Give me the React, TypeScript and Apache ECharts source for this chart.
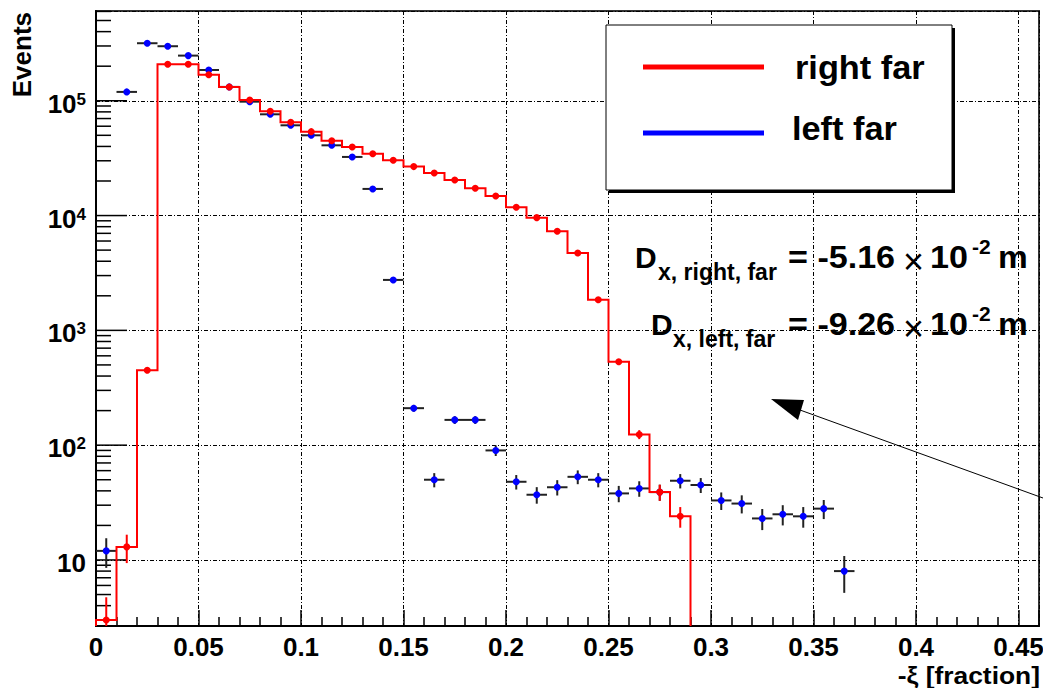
import React, { useEffect, useRef } from "react";
import * as echarts from "echarts";

// ---------------- data ----------------
const binWidth = 0.01;
const rightFarCenters = [
  0.005, 0.015, 0.025, 0.035, 0.045, 0.055, 0.065, 0.075, 0.085, 0.095,
  0.105, 0.115, 0.125, 0.135, 0.145, 0.155, 0.165, 0.175, 0.185, 0.195,
  0.205, 0.215, 0.225, 0.235, 0.245, 0.255, 0.265, 0.275, 0.285,
];
const rightFarCounts = [
  3, 13, 449, 208000, 208000, 168600, 131900, 101600, 80900, 65000,
  53800, 44900, 39600, 34600, 30300, 26700, 23500, 20400, 17300, 14800,
  11800, 9590, 7300, 4720, 1850, 533, 124, 39, 24,
];
const leftFarCenters = [
  0.005, 0.015, 0.025, 0.035, 0.045, 0.055, 0.065, 0.075, 0.085, 0.095,
  0.105, 0.115, 0.125, 0.135, 0.145, 0.155, 0.165, 0.175, 0.185, 0.195,
  0.205, 0.215, 0.225, 0.235, 0.245, 0.255, 0.265, 0.275, 0.285, 0.295,
  0.305, 0.315, 0.325, 0.335, 0.345, 0.355, 0.365,
];
const leftFarCounts = [
  12, 119400, 317000, 298500, 247300, 185400, 132000, 98200, 76200, 61100,
  50000, 40900, 32400, 17060, 2750, 210, 50, 166, 166, 90,
  48, 37, 43, 53, 50, 38, 42, 39, 49, 45,
  33, 31, 23, 25, 24, 28, 8,
];
const yDecades = [10, 100, 1000, 10000, 100000, 1000000];
const seriesNames = ["right far", "left far"];

const X_MIN = 0;
const X_MAX = 0.46;
const Y_MIN = 2.66;
const Y_MAX = 605000;

const RED = "#ff0000";
const BLUE = "#0000ff";
const FONT = '"Liberation Sans", Arial, Helvetica, sans-serif';

function yPix(api: any, cs: any, x: number, v: number) {
  const bottom = cs.y + cs.height;
  if (!(v > Y_MIN)) return bottom;
  if (v >= Y_MAX) return cs.y;
  return api.coord([x, v])[1];
}

function txt(text: string, x: number, y: number, fontSize: number, opts: any = {}) {
  return {
    type: "text",
    x,
    y,
    z: 100,
    scaleX: opts.scaleX ?? 1,
    rotation: opts.rotation ?? 0,
    style: {
      text,
      fontFamily: FONT,
      fontWeight: opts.weight ?? "bold",
      fontSize,
      fill: "#000",
      align: opts.align ?? "left",
      verticalAlign: "middle",
    },
  };
}

export default function App() {
  const ref = useRef<HTMLDivElement>(null);
  useEffect(() => {
    if (!ref.current) return;
    const chart = echarts.init(ref.current, null, { renderer: "svg" });

    const leftData = leftFarCenters.map((c, i) => [c, leftFarCounts[i]]);
    const rightData = rightFarCenters.map((c, i) => [c, rightFarCounts[i]]);

    const option: any = {
      animation: false,
      backgroundColor: "#ffffff",
      grid: {
        left: 96,
        top: 11,
        right: 4,
        bottom: 62,
        show: true,
        borderColor: "#333",
        borderWidth: 2,
        backgroundColor: "transparent",
        outerBoundsMode: "none",
        containLabel: false,
      },
      xAxis: {
        type: "value",
        min: X_MIN,
        max: X_MAX,
        interval: 0.05,
        axisLine: { show: true, onZero: false, lineStyle: { color: "#000", width: 2 } },
        axisTick: { show: true, inside: true, length: 16, lineStyle: { color: "#000", width: 1.5 } },
        minorTick: { show: true, splitNumber: 5, length: 9, lineStyle: { color: "#000", width: 1.5 } },
        splitLine: { show: true, lineStyle: { color: "#000", width: 1, type: [4, 2, 1, 2] } },
        axisLabel: {
          show: true,
          showMaxLabel: false,
          margin: 8,
          color: "#000",
          fontFamily: FONT,
          fontWeight: "bold",
          fontSize: 26,
          formatter: (v: number) => String(Math.round(v * 100) / 100),
        },
      },
      yAxis: {
        type: "log",
        logBase: 10,
        min: Y_MIN,
        max: Y_MAX,
        axisLine: { show: true, onZero: false, lineStyle: { color: "#000", width: 2 } },
        axisTick: { show: false },
        splitLine: { show: true, lineStyle: { color: "#000", width: 1, type: [4, 2, 1, 2] } },
        axisLabel: {
          show: true,
          margin: 10,
          color: "#000",
          fontFamily: FONT,
          fontWeight: "bold",
          fontSize: 26,
          padding: [6, 0, 0, 0],
          formatter: (v: number) => {
            const l = Math.log10(v);
            const e = Math.round(l);
            if (Math.abs(l - e) > 1e-6) return "";
            if (e === 1) return "10";
            return "10{sup|" + e + "}";
          },
          rich: {
            sup: {
              fontFamily: FONT,
              fontWeight: "bold",
              fontSize: 17,
              color: "#000",
              lineHeight: 16,
              verticalAlign: "top",
            },
          },
        },
      },
      series: [
        // y-axis decade and sub-decade tick marks (log-spaced)
        {
          type: "custom",
          name: "yticks",
          silent: true,
          data: [[X_MIN, yDecades[0]]],
          renderItem: (params: any, api: any) => {
            const cs = params.coordSys;
            const children: any[] = [];
            yDecades.forEach((d) => {
              for (let k = 1; k <= 9; k++) {
                const v = (d / 10) * k;
                if (v <= Y_MIN || v >= Y_MAX) continue;
                const y = api.coord([X_MIN, v])[1];
                const len = k === 1 ? 31 : 15;
                children.push({
                  type: "line",
                  shape: { x1: cs.x, y1: y, x2: cs.x + len, y2: y },
                  style: { stroke: "#000", lineWidth: 1.5 },
                });
              }
            });
            return { type: "group", children };
          },
        },
        // left far: blue markers with black error bars
        {
          type: "custom",
          name: seriesNames[1],
          data: leftData,
          renderItem: (params: any, api: any) => {
            const cs = params.coordSys;
            const c = api.value(0);
            const v = api.value(1);
            const err = Math.sqrt(v);
            const pC = api.coord([c, v]);
            const xl = api.coord([c - binWidth / 2, v])[0];
            const xr = api.coord([c + binWidth / 2, v])[0];
            const yLo = yPix(api, cs, c, v - err);
            const yHi = yPix(api, cs, c, v + err);
            return {
              type: "group",
              children: [
                { type: "line", shape: { x1: xl, y1: pC[1], x2: xr, y2: pC[1] }, style: { stroke: "#222", lineWidth: 2 } },
                { type: "line", shape: { x1: pC[0], y1: yLo, x2: pC[0], y2: yHi }, style: { stroke: "#222", lineWidth: 2 } },
                { type: "circle", shape: { cx: pC[0], cy: pC[1], r: 3.5 }, style: { fill: BLUE } },
              ],
            };
          },
        },
        // right far: red step histogram outline
        {
          type: "custom",
          name: seriesNames[0] + " hist",
          silent: true,
          data: [rightData[0]],
          renderItem: (params: any, api: any) => {
            const cs = params.coordSys;
            const bottom = cs.y + cs.height;
            const pts: number[][] = [];
            const first = rightFarCenters[0];
            pts.push([api.coord([first - binWidth / 2, Y_MAX / 10])[0], bottom]);
            rightFarCenters.forEach((c, i) => {
              const v = rightFarCounts[i];
              const y = yPix(api, cs, c, v);
              pts.push([api.coord([c - binWidth / 2, Y_MAX / 10])[0], y]);
              pts.push([api.coord([c + binWidth / 2, Y_MAX / 10])[0], y]);
            });
            const last = rightFarCenters[rightFarCenters.length - 1];
            pts.push([api.coord([last + binWidth / 2, Y_MAX / 10])[0], bottom]);
            return {
              type: "polyline",
              shape: { points: pts },
              style: { stroke: RED, lineWidth: 2, fill: "none" },
            };
          },
        },
        // right far: red markers with red vertical error bars
        {
          type: "custom",
          name: seriesNames[0],
          data: rightData,
          renderItem: (params: any, api: any) => {
            const cs = params.coordSys;
            const c = api.value(0);
            const v = api.value(1);
            const err = Math.sqrt(v);
            const pC = api.coord([c, v]);
            const yLo = yPix(api, cs, c, v - err);
            const yHi = yPix(api, cs, c, v + err);
            return {
              type: "group",
              children: [
                { type: "line", shape: { x1: pC[0], y1: yLo, x2: pC[0], y2: yHi }, style: { stroke: RED, lineWidth: 2 } },
                { type: "circle", shape: { cx: pC[0], cy: pC[1], r: 3.5 }, style: { fill: RED } },
              ],
            };
          },
        },
      ],
      graphic: [
        // axis titles
        txt("Events", 22, 12, 26, { rotation: Math.PI / 2, align: "right" }),
        txt("-ξ [fraction]", 1040, 675, 24, { align: "right", scaleX: 1.1 }),
        // legend box
        {
          type: "rect",
          z: 100,
          shape: { x: 609, y: 28, width: 346, height: 165 },
          style: { fill: "#000" },
        },
        {
          type: "rect",
          z: 101,
          shape: { x: 606, y: 25, width: 346, height: 165 },
          style: { fill: "#fff", stroke: "#000", lineWidth: 1 },
        },
        {
          type: "line",
          z: 102,
          shape: { x1: 643, y1: 67, x2: 764, y2: 67 },
          style: { stroke: RED, lineWidth: 5 },
        },
        {
          type: "line",
          z: 102,
          shape: { x1: 643, y1: 133, x2: 764, y2: 133 },
          style: { stroke: BLUE, lineWidth: 5 },
        },
        { ...txt(seriesNames[0], 795, 68, 33, { scaleX: 1.04 }), z: 102 },
        { ...txt(seriesNames[1], 792, 129, 33, { scaleX: 1.04 }), z: 102 },
        // annotation line 1
        txt("D", 635, 257.5, 30),
        txt("x, right, far", 658, 272, 23),
        txt("= -5.16", 788, 257.5, 31, { scaleX: 1.1 }),
        txt("×", 903, 261, 36, { weight: "normal" }),
        txt("10", 930, 257.5, 31, { scaleX: 1.1 }),
        txt("-2", 972, 246, 21),
        txt("m", 998, 257.5, 31, { scaleX: 1.08 }),
        // annotation line 2
        txt("D", 651, 324.5, 30),
        txt("x, left, far", 673, 339, 23),
        txt("= -9.26", 788, 324.5, 31, { scaleX: 1.1 }),
        txt("×", 903, 328, 36, { weight: "normal" }),
        txt("10", 930, 324.5, 31, { scaleX: 1.1 }),
        txt("-2", 972, 313, 21),
        txt("m", 998, 324.5, 31, { scaleX: 1.08 }),
        // arrow
        {
          type: "line",
          z: 100,
          shape: { x1: 800, y1: 410, x2: 1043, y2: 498 },
          style: { stroke: "#000", lineWidth: 1 },
        },
        {
          type: "polygon",
          z: 100,
          shape: { points: [[771, 399], [804, 400], [798, 420]] },
          style: { fill: "#000" },
        },
      ],
    };

    chart.setOption(option);
    return () => chart.dispose();
  }, []);

  return (
    <div
      ref={ref}
      style={{ position: "fixed", left: 0, top: 0, width: 1043, height: 688, background: "#fff" }}
    />
  );
}
